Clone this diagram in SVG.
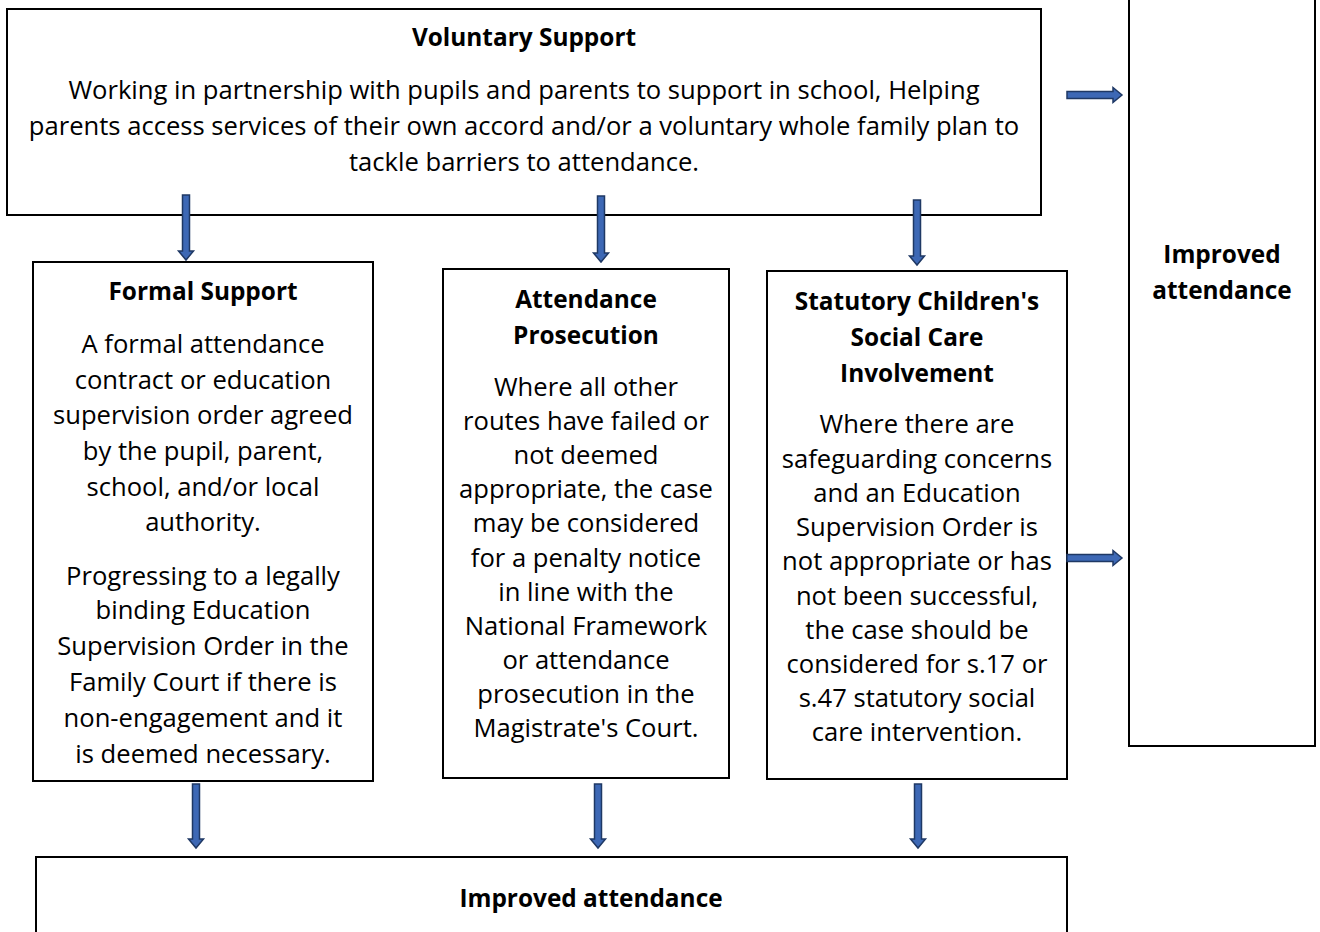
<svg xmlns="http://www.w3.org/2000/svg" width="1320" height="932" viewBox="0 0 1320 932">
<style>
.box{fill:#fff;stroke:#000;stroke-width:2}
text{font-family:"Open Sans","Liberation Sans",Arial,sans-serif;font-size:25.6px;fill:#000;text-anchor:middle}
.b{font-weight:bold;font-size:24.4px}
.arr{fill:#3D68B5;stroke:#1F3864;stroke-width:1.5;stroke-linejoin:miter}
</style>
<rect width="1320" height="932" fill="#fff"/>
<g id="voluntary">
<rect class="box" x="7" y="9" width="1034" height="206"/>
<text class="b" x="524" y="46">Voluntary Support</text>
<text x="524" y="99">Working in partnership with pupils and parents to support in school, Helping</text>
<text x="524" y="135">parents access services of their own accord and/or a voluntary whole family plan to</text>
<text x="524" y="171">tackle barriers to attendance.</text>
</g>
<g id="improved-right">
<rect class="box" x="1129" y="-5" width="186" height="751"/>
<text class="b" x="1222" y="263">Improved</text>
<text class="b" x="1222" y="299">attendance</text>
</g>
<g id="formal">
<rect class="box" x="33" y="262" width="340" height="519"/>
<text class="b" x="203" y="300">Formal Support</text>
<text x="203" y="353">A formal attendance</text>
<text x="203" y="389">contract or education</text>
<text x="203" y="424">supervision order agreed</text>
<text x="203" y="460">by the pupil, parent,</text>
<text x="203" y="496">school, and/or local</text>
<text x="203" y="531">authority.</text>
<text x="203" y="585">Progressing to a legally</text>
<text x="203" y="619">binding Education</text>
<text x="203" y="655">Supervision Order in the</text>
<text x="203" y="691">Family Court if there is</text>
<text x="203" y="727">non-engagement and it</text>
<text x="203" y="763">is deemed necessary.</text>
</g>
<g id="prosecution">
<rect class="box" x="443" y="269" width="286" height="509"/>
<text class="b" x="586" y="308">Attendance</text>
<text class="b" x="586" y="344">Prosecution</text>
<text x="586" y="396">Where all other</text>
<text x="586" y="430">routes have failed or</text>
<text x="586" y="464">not deemed</text>
<text x="586" y="498">appropriate, the case</text>
<text x="586" y="532">may be considered</text>
<text x="586" y="567">for a penalty notice</text>
<text x="586" y="601">in line with the</text>
<text x="586" y="635">National Framework</text>
<text x="586" y="669">or attendance</text>
<text x="586" y="703">prosecution in the</text>
<text x="586" y="737">Magistrate's Court.</text>
</g>
<g id="statutory">
<rect class="box" x="767" y="271" width="300" height="508"/>
<text class="b" x="917" y="310">Statutory Children's</text>
<text class="b" x="917" y="346">Social Care</text>
<text class="b" x="917" y="382">Involvement</text>
<text x="917" y="433">Where there are</text>
<text x="917" y="468">safeguarding concerns</text>
<text x="917" y="502">and an Education</text>
<text x="917" y="536">Supervision Order is</text>
<text x="917" y="570">not appropriate or has</text>
<text x="917" y="605">not been successful,</text>
<text x="917" y="639">the case should be</text>
<text x="917" y="673">considered for s.17 or</text>
<text x="917" y="707">s.47 statutory social</text>
<text x="917" y="741">care intervention.</text>
</g>
<g id="improved-bottom">
<rect class="box" x="36" y="857" width="1031" height="90"/>
<text class="b" x="591" y="907">Improved attendance</text>
</g>
<g id="connectors">
<path class="arr" d="M182.5,195 h7 v56 h4 l-7.5,9 l-7.5,-9 h4 z"/>
<path class="arr" d="M597.5,196 h7 v57 h4 l-7.5,9 l-7.5,-9 h4 z"/>
<path class="arr" d="M913.5,200 h7 v56 h4 l-7.5,9 l-7.5,-9 h4 z"/>
<path class="arr" d="M192.5,784 h7 v55 h4 l-7.5,9 l-7.5,-9 h4 z"/>
<path class="arr" d="M594.5,784 h7 v55 h4 l-7.5,9 l-7.5,-9 h4 z"/>
<path class="arr" d="M914.5,784 h7 v55 h4 l-7.5,9 l-7.5,-9 h4 z"/>
<path class="arr" d="M1067,91.5 h46 v-4 l9,7.5 l-9,7.5 v-4 h-46 z"/>
<path class="arr" d="M1067,554.5 h46 v-4 l9,7.5 l-9,7.5 v-4 h-46 z"/>
</g>
</svg>
